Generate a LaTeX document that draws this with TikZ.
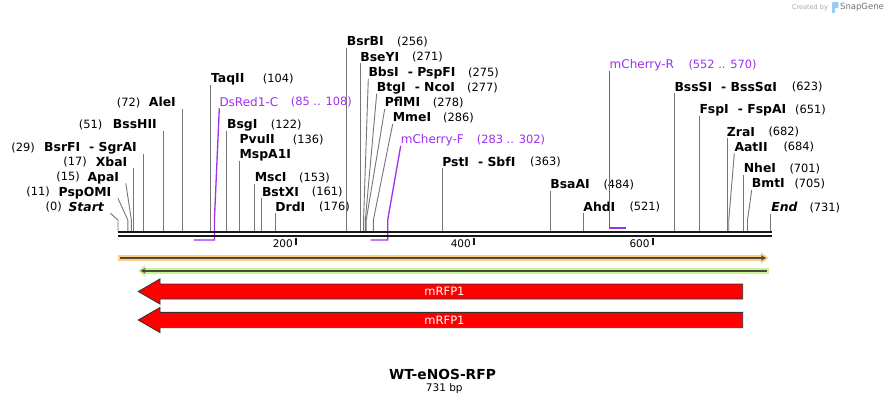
\documentclass[tikz,border=0pt]{standalone}
\usepackage{fontspec}
\setmainfont{DejaVu Sans}
\usetikzlibrary{arrows.meta}

\definecolor{primerpurple}{RGB}{158,48,240}
\definecolor{leadgray}{RGB}{118,118,118}
\definecolor{featorange}{RGB}{253,205,130}
\definecolor{featgreen}{RGB}{198,244,146}
\definecolor{featdark}{RGB}{78,72,62}
\definecolor{mrfpred}{RGB}{255,0,0}
\definecolor{logoblue}{RGB}{150,205,240}

\begin{document}
\begin{tikzpicture}[x=1pt,y=-1pt]
    % map of WT-eNOS-RFP
\tikzset{
    enzyme/.style={font=\bfseries\fontsize{12.4}{14}\selectfont, inner xsep=0pt, inner ysep=2pt, text height=9pt, text depth=0pt},
    seqend/.style={enzyme, font=\bfseries\itshape\fontsize{12.4}{14}\selectfont},
    site/.style={font=\fontsize{11.4}{13}\selectfont, inner xsep=0pt, inner ysep=2pt, text height=8.3pt, text depth=0pt},
    primer/.style={font=\fontsize{12}{14}\selectfont, text=primerpurple, inner xsep=0pt, inner ysep=2pt, text height=8.7pt, text depth=0pt},
    primerpos/.style={site, text=primerpurple},
    lead/.style={leadgray, line width=0.9pt},
    primerline/.style={primerpurple, line width=1.3pt},
    ticklabel/.style={font=\fontsize{10.5}{12}\selectfont, inner sep=0pt, anchor=east},
    mrfp/.style={fill=mrfpred, draw=black!80, line width=0.9pt},
    mrfplabel/.style={text=white, font=\fontsize{11.5}{13}\selectfont, inner sep=0pt}
}
    \useasboundingbox (0,0) rectangle (890,405);
    \fill[white] (0,0) rectangle (890,405);

    % cut positions on the sequence
    \foreach \p in {0,11,15,17,29,51,72,104,122,136,153,161,176,256,271,275,277,278,286,363,484,521,623,651,682,684,701,705,731}
        \coordinate (p\p) at ({118+0.8929*\p},231);
    \coordinate (d85) at (193.9,240);  \coordinate (d108) at (214.4,240);
    \coordinate (f283) at (370.7,240); \coordinate (f302) at (387.7,240);
    \coordinate (r552) at (609.5,228); \coordinate (r570) at (626.2,228);

    % left side labels
    \node[seqend, anchor=east](Start) at (104,206.7) {Start};
    \node[site, anchor=east](n0) at (62,206.7) {(0)};
    \node[enzyme, anchor=east](PspOMI) at (111.5,191.7) {PspOMI};
    \node[site, anchor=east](n11) at (50,191.7) {(11)};
    \node[enzyme, anchor=east](ApaI) at (119.3,176.7) {ApaI};
    \node[site, anchor=east](n15) at (80,176.7) {(15)};
    \node[enzyme, anchor=east](XbaI) at (127.5,161.7) {XbaI};
    \node[site, anchor=east](n17) at (87,161.7) {(17)};
    \node[enzyme, anchor=east](BsrFI) at (137,147.3) {BsrFI\hspace{9pt}- SgrAI};
    \node[site, anchor=east](n29) at (35,147.3) {(29)};
    \node[enzyme, anchor=east](BssHII) at (157,124) {BssHII};
    \node[site, anchor=east](n51) at (102.5,124) {(51)};
    \node[enzyme, anchor=east](AleI) at (176,102.3) {AleI};
    \node[site, anchor=east](n72) at (140.5,102.3) {(72)};

    % right side labels
    \node[enzyme, anchor=west](TaqII) at (210.9,78.3) {TaqII};
    \node[site, anchor=west](n104) at (262.7,78.3) {(104)};
    \node[primer, anchor=west](DsRed) at (219.3,101.7) {DsRed1-C};
    \node[primerpos, anchor=west](nDsRed) at (290.7,101.7) {(85 .. 108)};
    \node[enzyme, anchor=west](BsgI) at (226.9,124) {BsgI};
    \node[site, anchor=west](n122) at (270.7,124) {(122)};
    \node[enzyme, anchor=west](PvuII) at (239.4,139) {PvuII};
    \node[site, anchor=west](n136) at (292.7,139) {(136)};
    \node[enzyme, anchor=west](MspA1I) at (239.4,154) {MspA1I};
    \node[enzyme, anchor=west](MscI) at (254.6,177.3) {MscI};
    \node[site, anchor=west](n153) at (299,177.3) {(153)};
    \node[enzyme, anchor=west](BstXI) at (261.8,191.7) {BstXI};
    \node[site, anchor=west](n161) at (311.7,191.7) {(161)};
    \node[enzyme, anchor=west](DrdI) at (275.2,206.7) {DrdI};
    \node[site, anchor=west](n176) at (319,206.7) {(176)};

    \node[enzyme, anchor=west](BsrBI) at (346.6,41) {BsrBI};
    \node[site, anchor=west](n256) at (397,41) {(256)};
    \node[enzyme, anchor=west](BseYI) at (360.2,56.7) {BseYI};
    \node[site, anchor=west](n271) at (412,56.7) {(271)};
    \node[enzyme, anchor=west](BbsI) at (368.3,72) {BbsI\hspace{9pt}- PspFI};
    \node[site, anchor=west](n275) at (468,72) {(275)};
    \node[enzyme, anchor=west](BtgI) at (376.7,87) {BtgI\hspace{9pt}- NcoI};
    \node[site, anchor=west](n277) at (467,87) {(277)};
    \node[enzyme, anchor=west](PflMI) at (384.7,102.3) {PflMI};
    \node[site, anchor=west](n278) at (432.7,102.3) {(278)};
    \node[enzyme, anchor=west](MmeI) at (392.7,117.3) {MmeI};
    \node[site, anchor=west](n286) at (443,117.3) {(286)};
    \node[primer, anchor=west](mCherryF) at (400.7,139.3) {mCherry-F};
    \node[primerpos, anchor=west](nmCherryF) at (476.7,139.3) {(283 .. 302)};
    \node[enzyme, anchor=west](PstI) at (442.1,161.7) {PstI\hspace{9pt}- SbfI};
    \node[site, anchor=west](n363) at (530,161.7) {(363)};
    \node[enzyme, anchor=west](BsaAI) at (550.2,184) {BsaAI};
    \node[site, anchor=west](n484) at (603.3,184) {(484)};
    \node[enzyme, anchor=west](AhdI) at (583.2,206.7) {AhdI};
    \node[site, anchor=west](n521) at (629.3,206.7) {(521)};
    \node[primer, anchor=west](mCherryR) at (609.5,64) {mCherry-R};
    \node[primerpos, anchor=west](nmCherryR) at (688.3,64) {(552 .. 570)};
    \node[enzyme, anchor=west](BssSI) at (674.3,86.7) {BssSI\hspace{9pt}- BssSαI};
    \node[site, anchor=west](n623) at (791.7,86.7) {(623)};
    \node[enzyme, anchor=west](FspI) at (699.3,109) {FspI\hspace{9pt}- FspAI};
    \node[site, anchor=west](n651) at (795,109) {(651)};
    \node[enzyme, anchor=west](ZraI) at (726.7,131.7) {ZraI};
    \node[site, anchor=west](n682) at (768.3,131.7) {(682)};
    \node[enzyme, anchor=west](AatII) at (734.3,146.7) {AatII};
    \node[site, anchor=west](n684) at (783.3,146.7) {(684)};
    \node[enzyme, anchor=west](NheI) at (743.6,168.3) {NheI};
    \node[site, anchor=west](n701) at (789.3,168.3) {(701)};
    \node[enzyme, anchor=west](BmtI) at (751.7,183.3) {BmtI};
    \node[site, anchor=west](n705) at (794.3,183.3) {(705)};
    \node[seqend, anchor=west](End) at (771.2,207) {End};
    \node[site, anchor=west](n731) at (809.3,207) {(731)};

    % leader lines
    \draw[lead] ([xshift=6.5pt]Start.south east) -- ([yshift=11pt]p0) -- (p0);
    \draw[lead] ([xshift=6.5pt]PspOMI.south east) -- ([yshift=11pt]p11) -- (p11);
    \draw[lead] ([xshift=6.5pt]ApaI.south east) -- ([yshift=11pt]p15) -- (p15);
    \draw[lead] (p17 |- XbaI.south) -- (p17);
    \draw[lead] (p29 |- BsrFI.south) -- (p29);
    \draw[lead] (p51 |- BssHII.south) -- (p51);
    \draw[lead] (p72 |- AleI.south) -- (p72);
    \draw[lead] (p104 |- TaqII.south) -- (p104);
    \draw[lead] (p122 |- BsgI.south) -- (p122);
    \draw[lead] (p136 |- MspA1I.south) -- (p136);
    \draw[lead] (p153 |- MscI.south) -- (p153);
    \draw[lead] (p161 |- BstXI.south) -- (p161);
    \draw[lead] (p176 |- DrdI.south) -- (p176);
    \draw[lead] (p256 |- BsrBI.south) -- (p256);
    \draw[lead] (p271 |- BseYI.south) -- (p271);
    \draw[lead] (BbsI.south west) -- ([yshift=11pt]p275) -- (p275);
    \draw[lead] (BtgI.south west) -- ([yshift=11pt]p277) -- (p277);
    \draw[lead] (PflMI.south west) -- ([yshift=11pt]p278) -- (p278);
    \draw[lead] (MmeI.south west) -- ([yshift=11pt]p286) -- (p286);
    \draw[lead] (p363 |- PstI.south) -- (p363);
    \draw[lead] (p484 |- BsaAI.south) -- (p484);
    \draw[lead] (p521 |- AhdI.south) -- (p521);
    \draw[lead] (p623 |- BssSI.south) -- (p623);
    \draw[lead] (p651 |- FspI.south) -- (p651);
    \draw[lead] (p682 |- ZraI.south) -- (p682);
    \draw[lead] (AatII.south west) -- ([yshift=11pt]p684) -- (p684);
    \draw[lead] (p701 |- NheI.south) -- (p701);
    \draw[lead] (BmtI.south west) -- ([yshift=11pt]p705) -- (p705);
    \draw[lead] (p731 |- End.south) -- (p731);

    % primers
    \draw[primerline] (DsRed.south west) -- ([yshift=20pt]d108) -- (d108) -- (d85);
    \draw[primerline] (mCherryF.south west) -- ([yshift=20pt]f302) -- (f302) -- (f283);
    \draw[primerline] (r552 |- mCherryR.south) -- (r552) -- (r570);

    % sequence and ruler
    \draw[black!90, line width=2.4pt] (118,232.2) -- (772,232.2);
    \draw[black!90, line width=2pt] (118,236) -- (772,236);
    \draw[black!90, line width=2pt] (296,237.5) -- (296,244.5);
    \draw[black!90, line width=2pt] (474,237.5) -- (474,244.5);
    \draw[black!90, line width=2pt] (652.8,237.5) -- (652.8,244.5);
    \node[ticklabel](t200) at (293,244) {200};
    \node[ticklabel](t400) at (471,244) {400};
    \node[ticklabel](t600) at (649.8,244) {600};

    % features
    \fill[featorange] (118,255) rectangle (762,260.8);
    \fill[featorange] (761,252.3) -- (768.5,258) -- (761,263.5) -- cycle;
    \draw[featdark, line width=1.8pt, -{Stealth[length=5pt,width=5.5pt]}] (120,258) -- (766,258);
    \fill[featgreen] (144,267.7) rectangle (769,274);
    \fill[featgreen] (145,265) -- (138.3,270.8) -- (145,276.6) -- cycle;
    \draw[featdark, line width=1.8pt, {Stealth[length=5pt,width=5.5pt]}-] (140.5,270.8) -- (766.7,270.8);

    \draw[mrfp] (742.7,284) -- (160,284) -- (160,279) -- (138.3,291.5) -- (160,304) -- (160,299) -- (742.7,299) -- cycle;
    \node[mrfplabel](mRFP1a) at (444.5,291.5) {mRFP1};
    \draw[mrfp] (742.7,312.3) -- (160,312.3) -- (160,307.5) -- (138.3,320) -- (160,332.5) -- (160,327.7) -- (742.7,327.7) -- cycle;
    \node[mrfplabel](mRFP1b) at (444.5,320) {mRFP1};

    % title
    \node[font=\bfseries\fontsize{13.8}{16}\selectfont](Title) at (442.5,374) {WT-eNOS-RFP};
    \node[font=\fontsize{10.5}{12}\selectfont](Length) at (444.3,389) {731 bp};

    % watermark
    \node[font=\fontsize{6.5}{8}\selectfont, text=black!35, inner sep=0pt](Created) at (810,7.5) {Created by};
    \fill[logoblue, rounded corners=1pt] (832,2) rectangle (838.5,8);
    \fill[logoblue] (832,7) rectangle (834.6,12.5);
    \node[font=\fontsize{8.5}{10}\selectfont, text=black!55, inner sep=0pt](SnapGene) at (862,7.5) {SnapGene};
\end{tikzpicture}
\end{document}
